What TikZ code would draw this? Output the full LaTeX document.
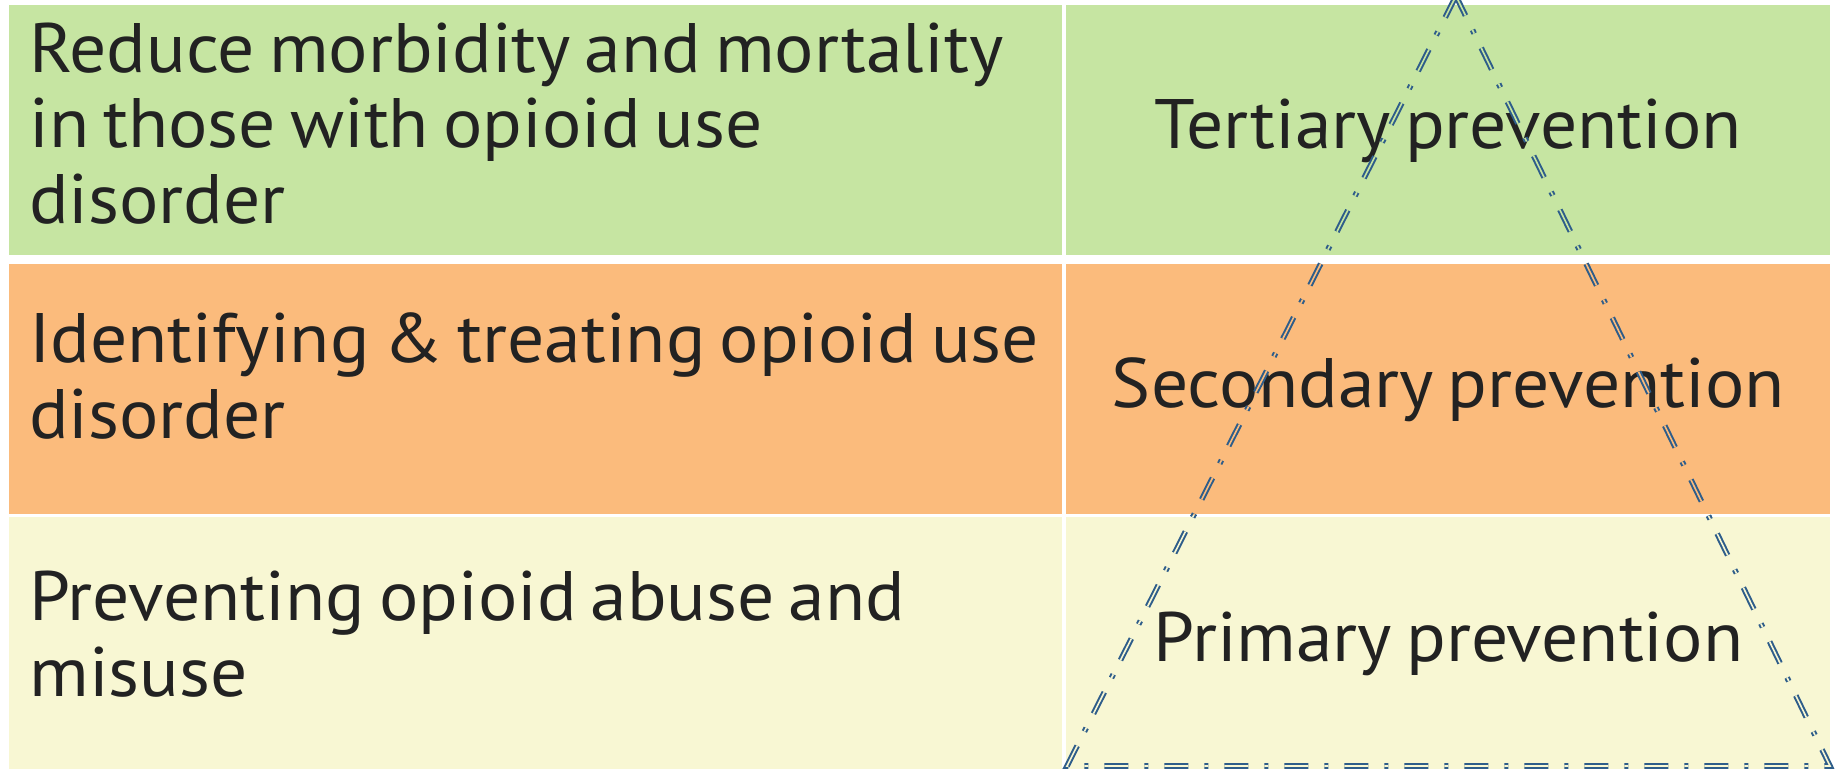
\documentclass[tikz,border=0pt]{standalone}
\usepackage{fontspec}
\setmainfont[FakeStretch=1.05,WordSpace=0.72]{PT Sans}
\usetikzlibrary{calc}
\definecolor{greenrow}{RGB}{198,229,162}
\definecolor{orangerow}{RGB}{251,187,124}
\definecolor{yellowrow}{RGB}{248,247,211}
\definecolor{textdark}{RGB}{34,34,34}
\definecolor{lineblue}{RGB}{46,93,138}

\begin{document}
\begin{tikzpicture}[x=0.5pt,y=-0.5pt,
  cell/.style={rectangle, inner sep=0pt, anchor=north west, minimum height=125pt, text=textdark, font=\fontsize{35}{37.75}\selectfont},
  goal/.style={cell, minimum width=526.5pt},
  goaltext/.style={inner sep=0pt, anchor=base west, align=left, text=textdark, font=\fontsize{35}{37.75}\selectfont},
  level/.style={cell, minimum width=382pt, align=center},
  tri/.style={lineblue, line width=1pt, double distance=0.8pt, dash pattern=on 12pt off 8pt on 2pt off 8pt}]
\useasboundingbox (0,0) rectangle (1843,768);
\fill[white] (0,0) rectangle (1843,768);
% goals on the left, levels on the right
\node[goal, fill=greenrow] (row1) at (9,5) {};
\node[goal, fill=orangerow] (row2) at (9,264) {};
\node[goal, fill=yellowrow, minimum height=126pt] (row3) at (9,517) {};
\node[goaltext] (goal1) at (29,223) {Reduce morbidity and mortality\\in those with opioid use\\disorder};
\node[goaltext] (goal2) at (29,438) {Identifying \& treating opioid use\\disorder};
\node[goaltext] (goal3) at (29,696) {Preventing opioid abuse and\\misuse};
\node[level, fill=greenrow] (tert) at (1066,5) {Tertiary prevention};
\node[level, fill=orangerow] (sec) at (1066,264) {Secondary prevention};
\node[level, fill=yellowrow, minimum height=126pt] (prim) at (1066,517) {Primary prevention};
% pyramid
\coordinate (apex) at (1456,-4);
\coordinate (baseL) at (1067,766);
\coordinate (baseR) at (1830,766);
\foreach \c/\ya/\yb in {greenrow/-10/259.5, orangerow/259.5/515.5, yellowrow/515.5/780} {
  \begin{scope}
    \clip (1000,\ya) rectangle (1843,\yb);
    \draw[tri, double=\c] (apex) -- (baseL) -- (baseR) -- cycle;
  \end{scope}
}
\end{tikzpicture}
\end{document}
